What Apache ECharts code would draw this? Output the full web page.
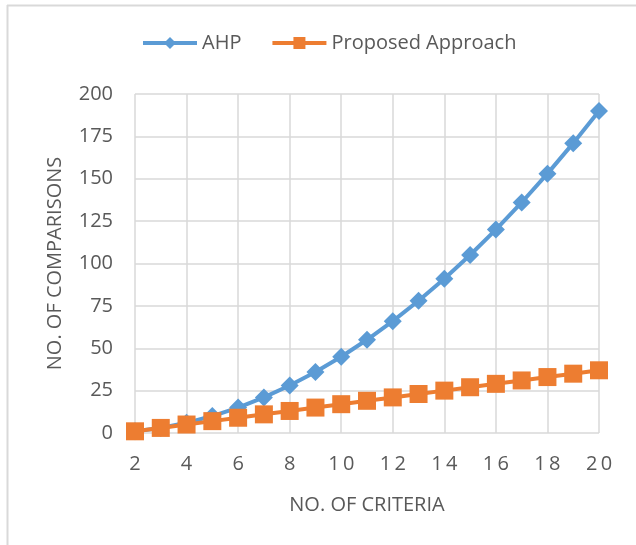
<!DOCTYPE html>
<html>
<head>
<meta charset="utf-8">
<script src="https://cdn.jsdelivr.net/npm/echarts@6/dist/echarts.min.js"></script>
<style>
  html, body { margin: 0; padding: 0; background: #fff; }
  #chart { width: 636px; height: 545px; }
</style>
</head>
<body>
<div id="chart"></div>
<script>
// Number of criteria on the x axis
const criteria = [2, 3, 4, 5, 6, 7, 8, 9, 10, 11, 12, 13, 14, 15, 16, 17, 18, 19, 20];
// Pairwise comparisons needed by AHP
const ahpValues = [1, 3, 6, 10, 15, 21, 28, 36, 45, 55, 66, 78, 91, 105, 120, 136, 153, 171, 190];
// Comparisons needed by the proposed approach
const proposedValues = [1, 3, 5, 7, 9, 11, 13, 15, 17, 19, 21, 23, 25, 27, 29, 31, 33, 35, 37];
const seriesNames = ['AHP', 'Proposed Approach'];

const FONT = '"Open Sans", "Noto Sans", sans-serif';
const TEXT = '#595959';
const GRID = '#d9d9d9';

const pairs = (vals) => criteria.map((c, i) => [c, vals[i]]);

const chart = echarts.init(document.getElementById('chart'), null, { renderer: 'canvas' });
chart.setOption({
  backgroundColor: '#fff',
  animation: false,
  graphic: [
    { type: 'line', shape: { x1: 7.5, y1: 5, x2: 7.5, y2: 545 }, style: { stroke: GRID, lineWidth: 2 } },
    { type: 'line', shape: { x1: 7, y1: 5.5, x2: 636, y2: 5.5 }, style: { stroke: GRID, lineWidth: 2 } }
  ],
  legend: {
    top: 33,
    left: 141,
    padding: 0,
    itemWidth: 54,
    itemHeight: 15,
    itemGap: 29,
    lineStyle: { width: 4 },
    textStyle: { fontFamily: FONT, fontSize: 20, color: TEXT },
    data: seriesNames
  },
  grid: { left: 135, right: 37, top: 94, bottom: 112 },
  xAxis: {
    type: 'value',
    min: 2,
    max: 20,
    interval: 2,
    name: 'NO. OF CRITERIA',
    nameLocation: 'middle',
    nameGap: 62,
    nameTextStyle: { fontFamily: FONT, fontSize: 20, color: TEXT },
    axisLine: { show: false },
    axisTick: { show: false },
    splitLine: { show: true, lineStyle: { color: GRID, width: 1.5 } },
    axisLabel: {
      fontFamily: FONT, fontSize: 20, color: TEXT, margin: 21,
      formatter: (v) => String(v).split('').join('\u2009')
    }
  },
  yAxis: {
    type: 'value',
    min: 0,
    max: 200,
    interval: 25,
    name: 'NO. OF COMPARISONS',
    nameLocation: 'middle',
    nameGap: 70,
    nameTextStyle: { fontFamily: FONT, fontSize: 20, color: TEXT },
    axisLine: { show: false },
    axisTick: { show: false },
    splitLine: { show: true, lineStyle: { color: GRID, width: 1.5 } },
    axisLabel: { fontFamily: FONT, fontSize: 20, color: TEXT, margin: 22 }
  },
  series: [
    {
      name: seriesNames[0],
      type: 'line',
      data: pairs(ahpValues),
      symbol: 'diamond',
      symbolSize: 18,
      lineStyle: { color: '#5b9bd5', width: 4 },
      itemStyle: { color: '#5b9bd5' },
      z: 2
    },
    {
      name: seriesNames[1],
      type: 'line',
      data: pairs(proposedValues),
      symbol: 'rect',
      symbolSize: 18,
      lineStyle: { color: '#ed7d31', width: 4 },
      itemStyle: { color: '#ed7d31' },
      z: 3
    }
  ]
});
</script>
</body>
</html>
